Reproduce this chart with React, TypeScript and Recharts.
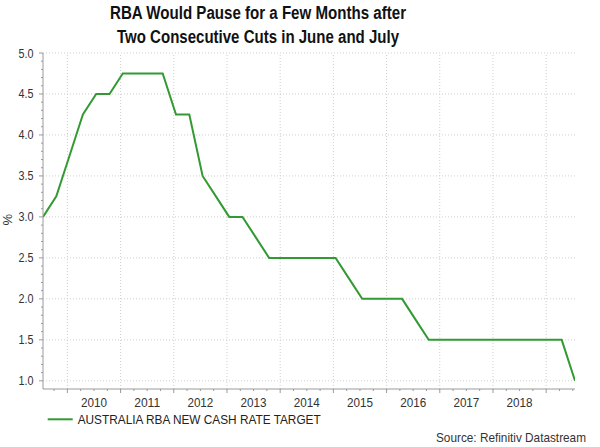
import React from 'react';
import { LineChart, Line, XAxis, YAxis, ReferenceLine } from 'recharts';

const dates = [
  '2009-07', '2009-10',
  '2010-01', '2010-04', '2010-07', '2010-10',
  '2011-01', '2011-04', '2011-07', '2011-10',
  '2012-01', '2012-04', '2012-07', '2012-10',
  '2013-01', '2013-04', '2013-07', '2013-10',
  '2014-01', '2014-04', '2014-07', '2014-10',
  '2015-01', '2015-04', '2015-07', '2015-10',
  '2016-01', '2016-04', '2016-07', '2016-10',
  '2017-01', '2017-04', '2017-07', '2017-10',
  '2018-01', '2018-04', '2018-07', '2018-10',
  '2019-01', '2019-04', '2019-07',
];

const rates = [
  3.0, 3.25,
  3.75, 4.25, 4.5, 4.5,
  4.75, 4.75, 4.75, 4.75,
  4.25, 4.25, 3.5, 3.25,
  3.0, 3.0, 2.75, 2.5,
  2.5, 2.5, 2.5, 2.5,
  2.5, 2.25, 2.0, 2.0,
  2.0, 2.0, 1.75, 1.5,
  1.5, 1.5, 1.5, 1.5,
  1.5, 1.5, 1.5, 1.5,
  1.5, 1.5, 1.0,
];

const yearTicks = [2010, 2011, 2012, 2013, 2014, 2015, 2016, 2017, 2018, 2019];
const yearLabels = ['2010', '2011', '2012', '2013', '2014', '2015', '2016', '2017', '2018'];
const yMajor = [1.0, 1.5, 2.0, 2.5, 3.0, 3.5, 4.0, 4.5, 5.0];

const seriesName = 'AUSTRALIA RBA NEW CASH RATE TARGET';
const titleLines = ['RBA Would Pause for a Few Months after', 'Two Consecutive Cuts in June and July'];
const sourceText = 'Source: Refinitiv Datastream';

const toDecimal = (d: string) => {
  const [y, m] = d.split('-').map(Number);
  return y + (m - 0.5) / 12;
};

const data = dates.map((d, i) => ({ t: toDecimal(d), rate: rates[i] }));
const xMin = data[0].t;
const xMax = data[data.length - 1].t;

// quarter tick positions (axis decoration)
const xTicks: number[] = [];
for (let y = 2009; y <= 2019; y++) {
  for (let q = 0; q < 4; q++) {
    const v = y + q * 0.25;
    if (v >= xMin && v <= xMax) xTicks.push(v);
  }
}
const yTicks: number[] = [];
for (let i = 10; i <= 50; i++) yTicks.push(i / 10);

const GREEN = '#339a33';
const AXIS = '#9a9a9a';
const GRID = '#cfcfcf';
const TEXT = '#333333';
const FONT = '"Liberation Sans", Arial, sans-serif';

const XTick = (props: any) => {
  const { x, y, payload } = props;
  const v = payload.value as number;
  const isYear = Math.abs(v - Math.round(v)) < 1e-6;
  const frac = v - Math.floor(v);
  const isMid = Math.abs(frac - 0.5) < 1e-6;
  const label = String(Math.floor(v));
  return (
    <g>
      <line x1={x} x2={x} y1={y} y2={y + (isYear ? 4 : 2)} stroke={AXIS} strokeWidth={1} />
      {isMid && yearLabels.includes(label) && (
        <text
          x={x}
          y={y + 18}
          textAnchor="middle"
          fontSize={13}
          fontFamily={FONT}
          fill={TEXT}
          textLength={26}
          lengthAdjust="spacingAndGlyphs"
        >
          {label}
        </text>
      )}
    </g>
  );
};

const YTick = (props: any) => {
  const { x, y, payload } = props;
  const v = payload.value as number;
  const isMajor = yMajor.some((m) => Math.abs(m - v) < 1e-6);
  return (
    <g>
      <line x1={x - (isMajor ? 4 : 2)} x2={x} y1={y} y2={y} stroke={AXIS} strokeWidth={1} />
      {isMajor && (
        <text
          x={x - 9.5}
          y={y}
          dy="0.36em"
          textAnchor="end"
          fontSize={12.5}
          fontFamily={FONT}
          fill={TEXT}
          textLength={15}
          lengthAdjust="spacingAndGlyphs"
        >
          {v.toFixed(1)}
        </text>
      )}
    </g>
  );
};

export default function App() {
  return (
    <div style={{ position: 'absolute', left: 0, top: 0, width: 600, height: 447, background: '#fff' }}>
      <LineChart
        width={600}
        height={447}
        data={data}
        margin={{ top: 53, right: 25, bottom: 0, left: 0 }}
      >
        <XAxis
          dataKey="t"
          type="number"
          domain={[xMin, xMax]}
          ticks={xTicks}
          interval={0}
          tickSize={0}
          tickMargin={0}
          tickLine={false}
          tick={<XTick />}
          axisLine={{ stroke: AXIS }}
          height={58}
          allowDataOverflow
        />
        <YAxis
          type="number"
          domain={[0.9, 5]}
          ticks={yTicks}
          interval={0}
          tickSize={0}
          tickMargin={0}
          tickLine={false}
          tick={<YTick />}
          axisLine={{ stroke: AXIS }}
          width={43}
          allowDataOverflow
        />
        {yMajor.map((v) => (
          <ReferenceLine key={'h' + v} y={v} stroke={GRID} strokeDasharray="1 2" />
        ))}
        {yearTicks.map((v) => (
          <ReferenceLine key={'v' + v} x={v} stroke={GRID} strokeDasharray="1 2" />
        ))}
        <Line
          type="linear"
          dataKey="rate"
          stroke={GREEN}
          strokeWidth={2}
          dot={false}
          isAnimationActive={false}
        />
      </LineChart>
      <svg
        width={600}
        height={447}
        style={{ position: 'absolute', left: 0, top: 0, pointerEvents: 'none' }}
      >
        <text
          x={258}
          y={18.5}
          textAnchor="middle"
          fontSize={18}
          fontWeight="bold"
          fontFamily={FONT}
          fill="#111"
          textLength={296}
          lengthAdjust="spacingAndGlyphs"
        >
          {titleLines[0]}
        </text>
        <text
          x={258}
          y={42.8}
          textAnchor="middle"
          fontSize={18}
          fontWeight="bold"
          fontFamily={FONT}
          fill="#111"
          textLength={282}
          lengthAdjust="spacingAndGlyphs"
        >
          {titleLines[1]}
        </text>
        <text
          x={12.5}
          y={219.7}
          textAnchor="middle"
          fontSize={13}
          fontFamily={FONT}
          fill={TEXT}
          transform="rotate(-90, 12.5, 219.7)"
        >
          %
        </text>
        <line x1={47.7} x2={72.7} y1={419.3} y2={419.3} stroke={GREEN} strokeWidth={2} />
        <text
          x={77.7}
          y={424}
          fontSize={13.5}
          fontFamily={FONT}
          fill="#222"
          textLength={243}
          lengthAdjust="spacingAndGlyphs"
        >
          {seriesName}
        </text>
        <text
          x={436}
          y={442.3}
          fontSize={13.5}
          fontFamily={FONT}
          fill={TEXT}
          textLength={150}
          lengthAdjust="spacingAndGlyphs"
        >
          {sourceText}
        </text>
      </svg>
    </div>
  );
}
